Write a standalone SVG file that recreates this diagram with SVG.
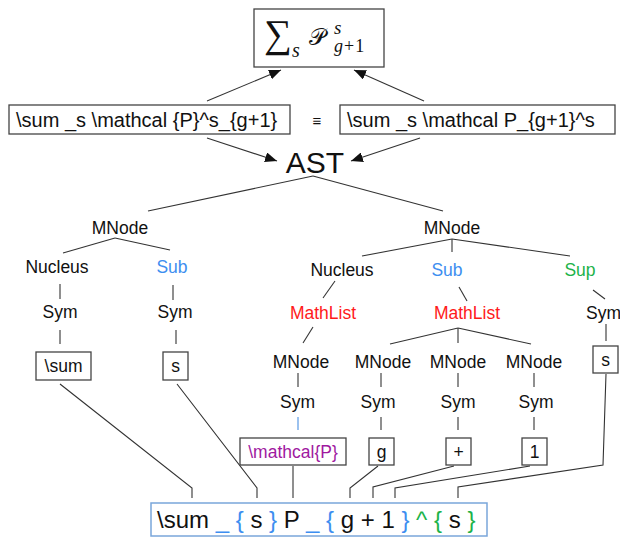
<svg xmlns="http://www.w3.org/2000/svg" width="620" height="538" viewBox="0 0 620 538">
<style>
text{font-family:"Liberation Sans",Arial,sans-serif;fill:#111}
.n{font-size:17.5px;text-anchor:middle}
.b{fill:#fff;stroke:#444;stroke-width:1.3}
.c line,.c polyline{stroke:#333;stroke-width:1.1;fill:none}
.blue{fill:#3d8ef0}
.red{fill:#ff1a1a}
.green{fill:#1db34a}
.pur{fill:#a0199f}
.m{font-family:"Liberation Serif","DejaVu Serif",serif}
</style>
<defs>
<marker id="ah" viewBox="0 0 12 10" refX="12" refY="5" markerWidth="12" markerHeight="10" markerUnits="userSpaceOnUse" orient="auto">
<path d="M0,0 L12,5 L0,10 Z" fill="#111"/>
</marker>
</defs>
<g class="c" id="connectors">
<line x1="207" y1="101" x2="281" y2="70" marker-end="url(#ah)"/>
<line x1="424" y1="101" x2="354" y2="70" marker-end="url(#ah)"/>
<line x1="207" y1="138" x2="277" y2="161" marker-end="url(#ah)"/>
<line x1="420" y1="138" x2="351" y2="161" marker-end="url(#ah)"/>
<line x1="313" y1="176" x2="148" y2="211"/>
<line x1="313" y1="176" x2="443" y2="211"/>
<line x1="115" y1="238" x2="63" y2="253"/>
<line x1="115" y1="238" x2="170" y2="250"/>
<line x1="60" y1="284" x2="60" y2="299"/>
<line x1="60" y1="330" x2="60" y2="344"/>
<line x1="173" y1="285" x2="173" y2="300"/>
<line x1="176" y1="330" x2="176" y2="344"/>
<line x1="452" y1="239" x2="362" y2="256"/>
<line x1="452" y1="239" x2="452" y2="252"/>
<line x1="452" y1="239" x2="570" y2="256"/>
<line x1="335" y1="281" x2="323" y2="298"/>
<line x1="459" y1="287" x2="467" y2="301"/>
<line x1="593" y1="290" x2="605" y2="299"/>
<line x1="606" y1="324" x2="606" y2="341"/>
<line x1="313" y1="327" x2="303" y2="343"/>
<line x1="458" y1="328" x2="390" y2="344"/>
<line x1="458" y1="328" x2="458" y2="343"/>
<line x1="458" y1="328" x2="531" y2="344"/>
<line x1="298" y1="373" x2="298" y2="387"/>
<line x1="381" y1="373" x2="381" y2="387"/>
<line x1="458" y1="373" x2="458" y2="387"/>
<line x1="534" y1="373" x2="534" y2="387"/>
<line x1="298" y1="417" x2="298" y2="430" style="stroke:#4a90e2"/>
<line x1="381" y1="417" x2="381" y2="430"/>
<line x1="458" y1="417" x2="458" y2="430"/>
<line x1="534" y1="417" x2="534" y2="430"/>
<polyline points="60,384 192,488 192,498"/>
<polyline points="177,384 257,488 257,498"/>
<polyline points="293,466 293,498"/>
<polyline points="378,466 350,488 350,498"/>
<polyline points="454,466 373,487 373,498"/>
<polyline points="530,466 395,488 395,498"/>
<polyline points="606,374 603,465 458,487 458,498"/>
</g>
<g id="top">
<rect class="b" x="254" y="9" width="130" height="58"/>
<text class="m" x="264" y="47" font-size="39">∑</text>
<text class="m" x="292" y="57" font-size="20" font-style="italic">s</text>
<text class="m" x="309" y="45" font-size="23">𝒫</text>
<text class="m" x="334" y="34" font-size="19" font-style="italic">s</text>
<text class="m" x="334" y="52" font-size="18"><tspan font-style="italic">g</tspan><tspan dx="1">+</tspan><tspan dx="1">1</tspan></text>
</g>
<g id="leftsrc">
<rect class="b" x="9" y="105" width="281" height="29"/>
<text x="16" y="127" font-size="20">\sum _s \mathcal {P}^s_{g+1}</text>
</g>
<g id="equiv"><text x="317" y="126" font-size="15" text-anchor="middle">≡</text></g>
<g id="rightsrc">
<rect class="b" x="340" y="105" width="275" height="29"/>
<text x="347" y="127" font-size="20">\sum _s \mathcal P_{g+1}^s</text>
</g>
<g id="ast"><text x="315" y="173" font-size="30" text-anchor="middle">AST</text></g>
<g id="mnodeL"><text class="n" x="120" y="234">MNode</text></g>
<g id="nucleusL"><text class="n" x="57" y="273">Nucleus</text></g>
<g id="subL"><text class="n blue" x="172" y="273">Sub</text></g>
<g id="symL1"><text class="n" x="60" y="318">Sym</text></g>
<g id="symL2"><text class="n" x="175" y="318">Sym</text></g>
<g id="boxSum"><rect class="b" x="36" y="352" width="55" height="28"/><text class="n" x="63.5" y="372">\sum</text></g>
<g id="boxS1"><rect class="b" x="163" y="352" width="25" height="28"/><text class="n" x="175.5" y="372">s</text></g>
<g id="mnodeR"><text class="n" x="452" y="234">MNode</text></g>
<g id="nucleusR"><text class="n" x="342" y="276">Nucleus</text></g>
<g id="subR"><text class="n blue" x="447" y="276">Sub</text></g>
<g id="supR"><text class="n green" x="580" y="276">Sup</text></g>
<g id="mathlist1"><text class="n red" x="323" y="319">MathList</text></g>
<g id="mathlist2"><text class="n red" x="467" y="319">MathList</text></g>
<g id="symSup"><text class="n" x="603.5" y="319">Sym</text></g>
<g id="boxS2"><rect class="b" x="593" y="346" width="25" height="27"/><text class="n" x="605.5" y="366">s</text></g>
<g id="mnode1"><text class="n" x="301" y="368">MNode</text></g>
<g id="mnode2"><text class="n" x="383" y="368">MNode</text></g>
<g id="mnode3"><text class="n" x="458" y="368">MNode</text></g>
<g id="mnode4"><text class="n" x="534" y="368">MNode</text></g>
<g id="sym1"><text class="n" x="297.5" y="408">Sym</text></g>
<g id="sym2"><text class="n" x="378" y="408">Sym</text></g>
<g id="sym3"><text class="n" x="458" y="408">Sym</text></g>
<g id="sym4"><text class="n" x="536" y="408">Sym</text></g>
<g id="boxCal"><rect class="b" x="240" y="438" width="106" height="27"/><text class="n pur" x="293" y="458">\mathcal{P}</text></g>
<g id="boxG"><rect class="b" x="369" y="438" width="25" height="27"/><text class="n" x="381.5" y="458">g</text></g>
<g id="boxPlus"><rect class="b" x="446" y="438" width="25" height="27"/><text class="n" x="458.5" y="458">+</text></g>
<g id="boxOne"><rect class="b" x="522" y="438" width="25" height="27"/><text class="n" x="534.5" y="458">1</text></g>
<g id="result">
<rect x="151" y="503" width="336" height="33" fill="#fff" stroke="#7aa6da" stroke-width="1.5"/>
<text x="157" y="528" font-size="24" xml:space="preserve">\sum <tspan class="blue">_ {</tspan> s <tspan class="blue">}</tspan> P <tspan class="blue">_ {</tspan> g + 1 <tspan class="blue">}</tspan> <tspan class="green">^ {</tspan> s <tspan class="green">}</tspan></text>
</g>
</svg>
